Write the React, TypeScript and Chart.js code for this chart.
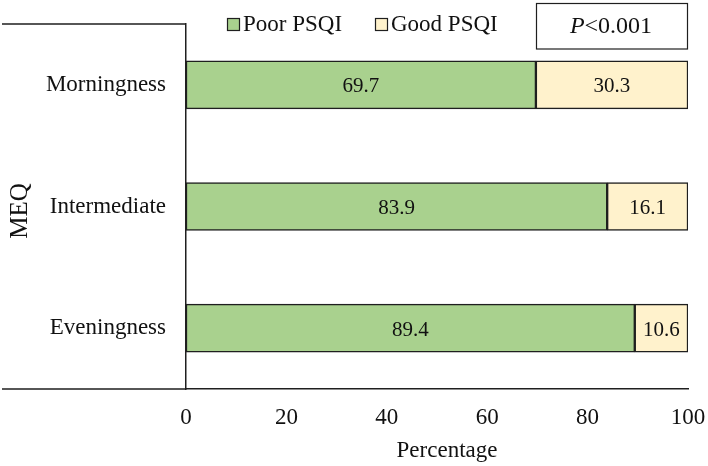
import React, { useEffect, useRef } from 'react';
import { Chart, registerables } from 'chart.js';

Chart.register(...registerables);

const categories = ['Morningness', 'Intermediate', 'Eveningness'];
const poorPSQI = [69.7, 83.9, 89.4];
const goodPSQI = [30.3, 16.1, 10.6];
const seriesNames = ['Poor PSQI', 'Good PSQI'];
const seriesColors = ['#a9d18e', '#fff2cc'];
const xTickMin = 0;
const xTickMax = 100;
const xTickStep = 20;
const yAxisTitle = 'MEQ';
const xAxisTitle = 'Percentage';
const pSymbol = 'P';
const pValue = '<0.001';

const FONT = '"Liberation Serif", "Times New Roman", serif';
const LINE = '#1f1f1f';
const TEXT = '#111';

const extrasPlugin = {
  id: 'extras',
  afterDraw(chart: any) {
    const { ctx, chartArea } = chart;
    ctx.save();
    // extended axis lines into the label area
    ctx.strokeStyle = LINE;
    ctx.lineWidth = 1.5;
    ctx.beginPath();
    ctx.moveTo(2, chartArea.top);
    ctx.lineTo(chartArea.left, chartArea.top);
    ctx.moveTo(2, chartArea.bottom);
    ctx.lineTo(chartArea.left, chartArea.bottom);
    ctx.stroke();

    // data labels
    ctx.fillStyle = TEXT;
    ctx.font = `21px ${FONT}`;
    ctx.textAlign = 'center';
    ctx.textBaseline = 'middle';
    chart.data.datasets.forEach((ds: any, di: number) => {
      const meta = chart.getDatasetMeta(di);
      meta.data.forEach((el: any, i: number) => {
        const cx = (el.x + el.base) / 2;
        ctx.fillText(Number(ds.data[i]).toFixed(1), cx, el.y + 2);
      });
    });

    // axis titles
    ctx.font = `23px ${FONT}`;
    ctx.fillText(xAxisTitle, (chartArea.left + chartArea.right) / 2 + 10, 451);
    ctx.save();
    ctx.translate(19.5, 211);
    ctx.rotate(-Math.PI / 2);
    ctx.font = `25px ${FONT}`;
    ctx.fillText(yAxisTitle, 0, 1);
    ctx.restore();

    // legend
    ctx.font = `23px ${FONT}`;
    ctx.textAlign = 'left';
    ctx.textBaseline = 'middle';
    const starts = [227, 375];
    const ly = 24.5;
    chart.data.datasets.forEach((ds: any, i: number) => {
      const x = starts[i];
      ctx.fillStyle = ds.backgroundColor;
      ctx.fillRect(x, ly - 6.5, 13, 13);
      ctx.strokeStyle = LINE;
      ctx.lineWidth = 1.2;
      ctx.strokeRect(x + 0.5, ly - 6, 12, 12);
      ctx.fillStyle = TEXT;
      ctx.fillText(ds.label, x + 16, ly);
    });

    // p-value box
    ctx.strokeStyle = LINE;
    ctx.lineWidth = 1.2;
    ctx.strokeRect(536.5, 3.5, 151, 45.5);
    ctx.font = `italic 24px ${FONT}`;
    const w1 = ctx.measureText(pSymbol).width;
    ctx.font = `24px ${FONT}`;
    const w2 = ctx.measureText(pValue).width;
    const sx = 611 - (w1 + w2) / 2;
    ctx.fillStyle = TEXT;
    ctx.font = `italic 24px ${FONT}`;
    ctx.fillText(pSymbol, sx, 27);
    ctx.font = `24px ${FONT}`;
    ctx.fillText(pValue, sx + w1, 27);
    ctx.restore();
  },
};

export default function App() {
  const ref = useRef<HTMLCanvasElement>(null);
  useEffect(() => {
    if (!ref.current) return;
    const chart = new Chart(ref.current, {
      type: 'bar',
      data: {
        labels: categories,
        datasets: [
          {
            label: seriesNames[0],
            data: poorPSQI,
            backgroundColor: seriesColors[0],
            borderColor: LINE,
            borderWidth: 1.5,
            borderSkipped: false,
            barThickness: 48,
          },
          {
            label: seriesNames[1],
            data: goodPSQI,
            backgroundColor: seriesColors[1],
            borderColor: LINE,
            borderWidth: 1.5,
            borderSkipped: false,
            barThickness: 48,
          },
        ],
      },
      options: {
        indexAxis: 'y',
        responsive: false,
        animation: false,
        events: [],
        layout: { padding: { top: 24, right: 20, left: 0, bottom: 0 } },
        plugins: {
          legend: { display: false },
          tooltip: { enabled: false },
        },
        scales: {
          x: {
            stacked: true,
            min: xTickMin,
            max: xTickMax,
            ticks: {
              stepSize: xTickStep,
              color: TEXT,
              font: { family: FONT, size: 23 },
              padding: 15,
            },
            grid: { display: false, drawTicks: false },
            border: { display: true, color: LINE, width: 1.5 },
            title: { display: false },
            afterFit(scale: any) {
              scale.height = 77;
              scale.paddingLeft = 0;
              scale.paddingRight = 0;
            },
          },
          y: {
            stacked: true,
            ticks: {
              color: TEXT,
              font: { family: FONT, size: 23 },
              padding: 20,
            },
            grid: { display: false, drawTicks: false },
            border: { display: true, color: LINE, width: 1.5 },
            title: { display: false },
            afterFit(scale: any) {
              scale.width = 186;
              scale.paddingTop = 0;
              scale.paddingBottom = 0;
            },
          },
        },
      },
      plugins: [extrasPlugin],
    } as any);
    return () => chart.destroy();
  }, []);
  return (
    <div style={{ position: 'fixed', left: 0, top: 0, width: 708, height: 466, background: '#fff' }}>
      <canvas ref={ref} width={708} height={466} style={{ width: 708, height: 466, display: 'block' }} />
    </div>
  );
}
